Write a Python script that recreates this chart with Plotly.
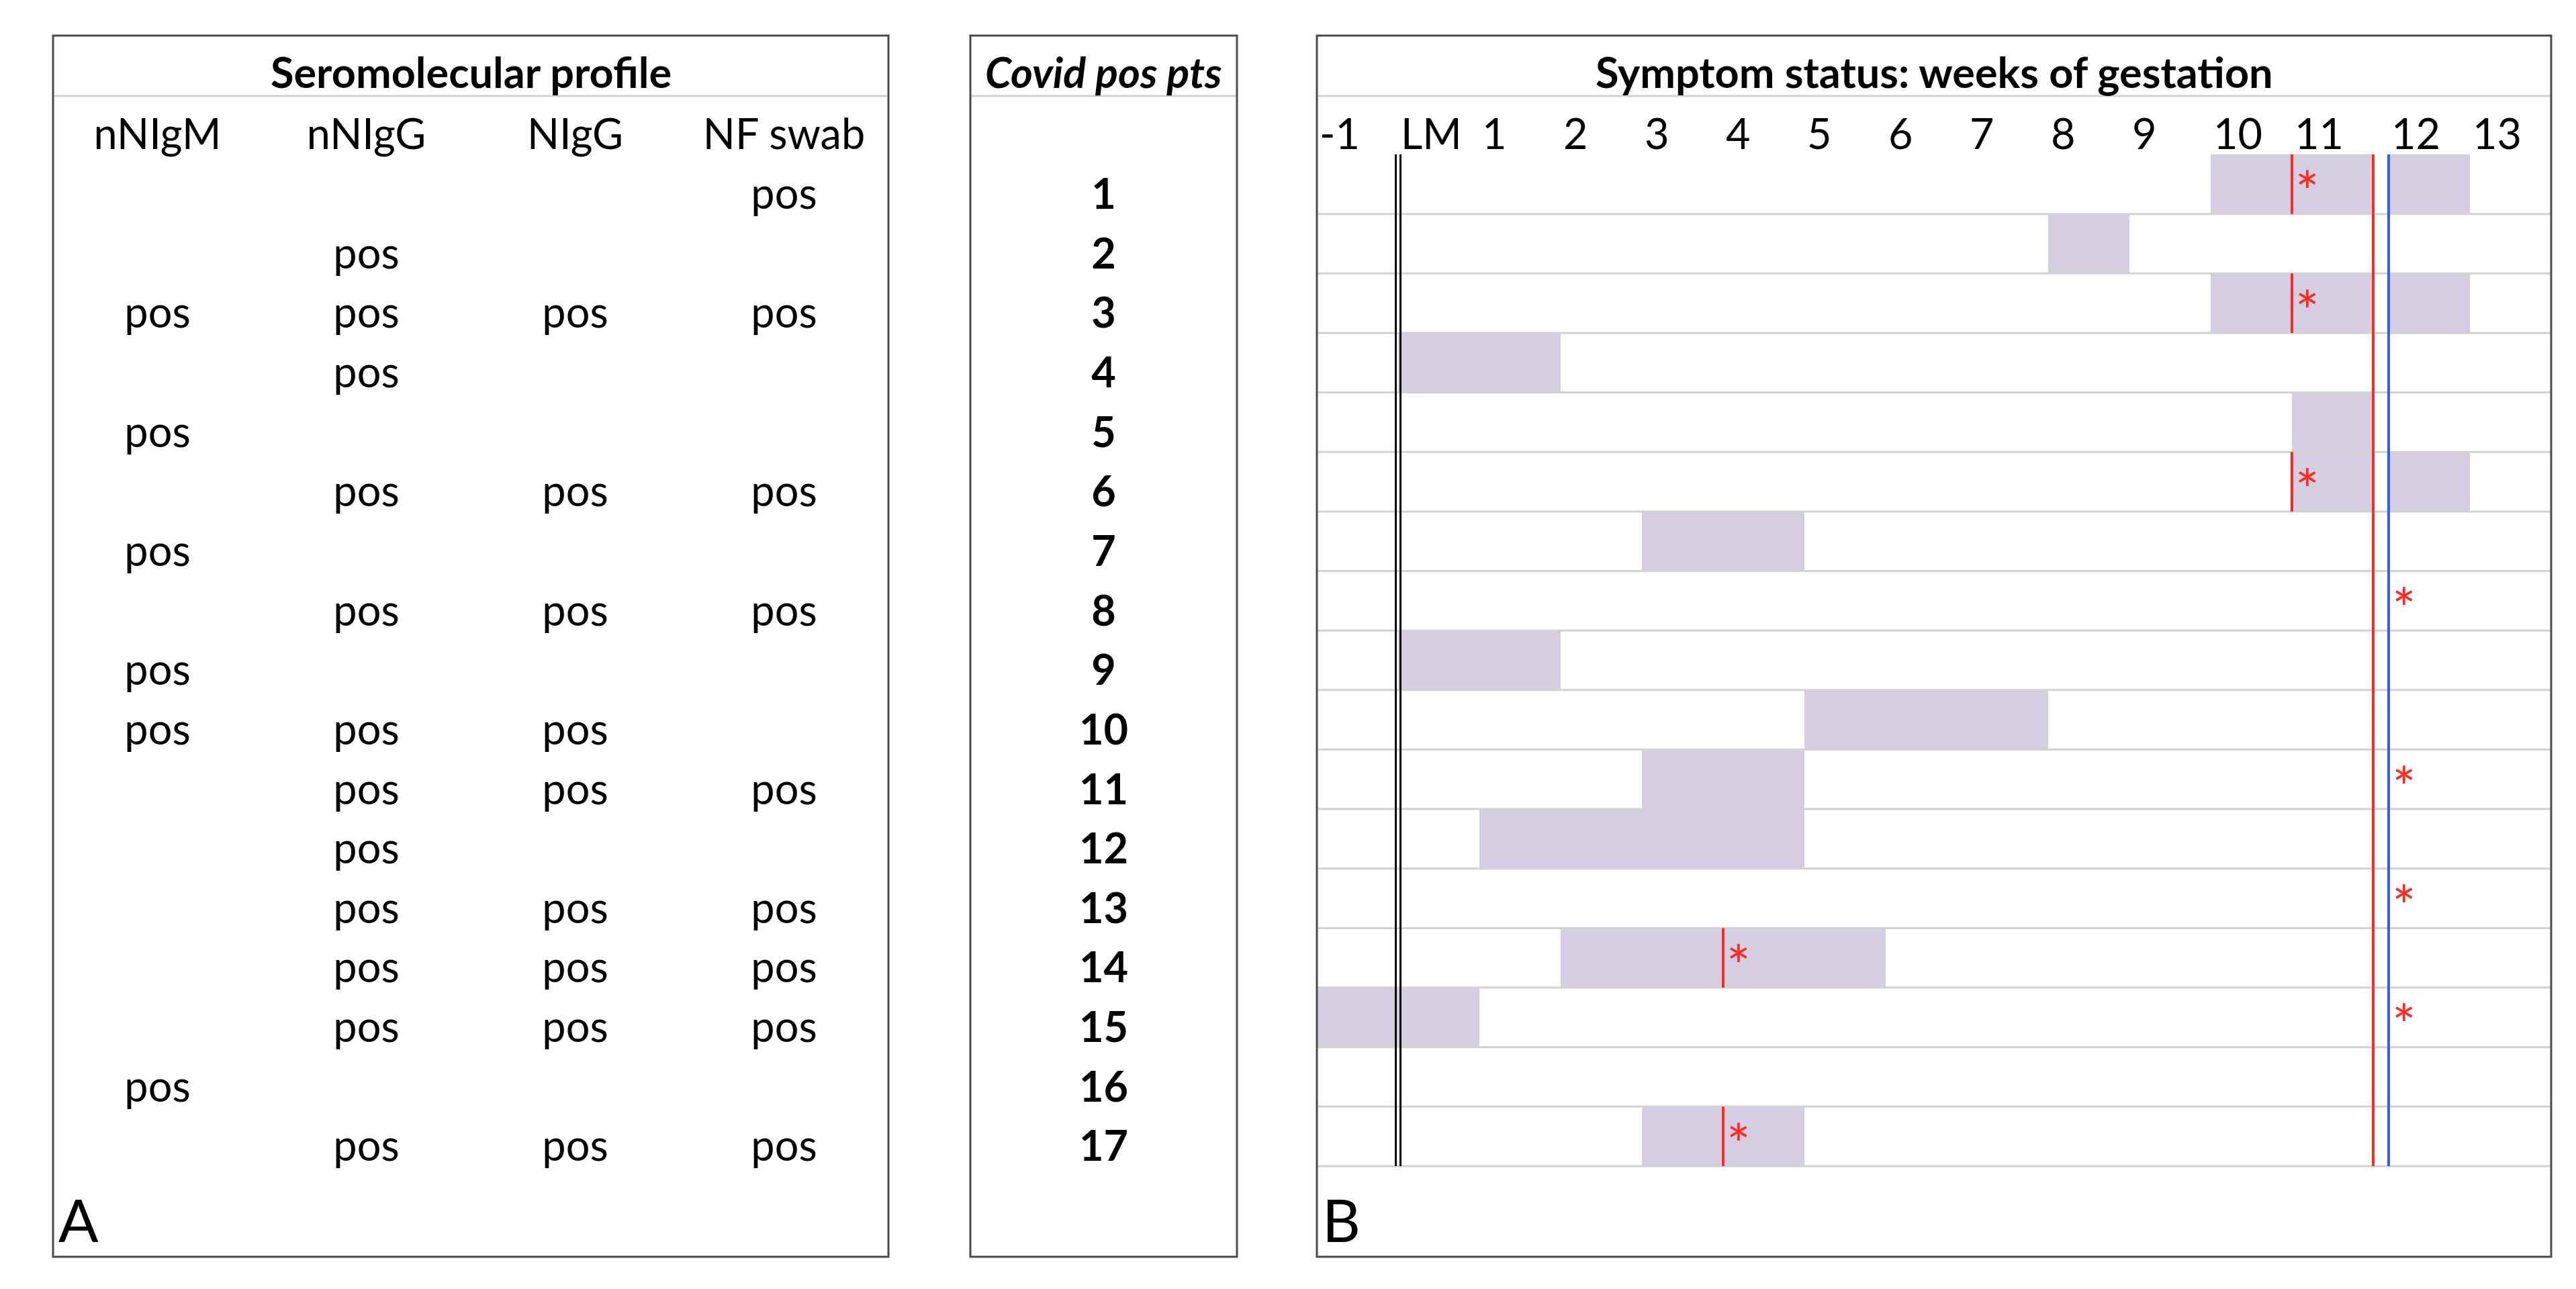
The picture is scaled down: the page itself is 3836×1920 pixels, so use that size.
import plotly.graph_objects as go

# ---------------- data ----------------
patients = list(range(1, 18))
sero_columns = ["nNIgM", "nNIgG", "NIgG", "NF swab"]
nNIgM   = [0, 0, 1, 0, 1, 0, 1, 0, 1, 1, 0, 0, 0, 0, 0, 1, 0]
nNIgG   = [0, 1, 1, 1, 0, 1, 0, 1, 0, 1, 1, 1, 1, 1, 1, 0, 1]
NIgG    = [0, 0, 1, 0, 0, 1, 0, 1, 0, 1, 1, 0, 1, 1, 1, 0, 1]
NF_swab = [1, 0, 1, 0, 0, 1, 0, 1, 0, 0, 1, 0, 1, 1, 1, 0, 1]

week_ticks  = [-1, 0, 1, 2, 3, 4, 5, 6, 7, 8, 9, 10, 11, 12, 13]
week_labels = ["-1", "LM", "1", "2", "3", "4", "5", "6", "7", "8", "9", "10", "11", "12", "13"]

symptom_start  = [10, 8, 10, 0, 11, 11, 3, None, 0, 5, 3, 1, None, 2, -1, None, 3]
symptom_end    = [13, 9, 13, 2, 12, 13, 5, None, 2, 8, 5, 5, None, 6, 1, None, 5]
diagnosis_week = [11, None, 11, None, None, 11, None, 12, None, None, 12, None, 12, 4, 12, None, 4]
first_trimester_end = 12   # red line (end of week 11)
screening_week = 12        # blue line (start of week-12 column)

# ---------------- layout constants (pixels) ----------------
W, H = 3836, 1920
PANEL_TOP, PANEL_BOTTOM, HEADER_SEP = 53, 1872, 143
A_L, A_R = 79, 1323
C_L, C_R = 1445, 1842
B_L, B_R = 1961, 3799
ROW_TOP, ROW_BOTTOM = 230, 1737
CELL_PX = (B_R - B_L) / 15.19
GAP = 23 / CELL_PX
X_MAX = 14 + GAP

FONT = "Lato, 'Open Sans', sans-serif"
FS = 63
FS_AST = 84
FS_PANEL = 88
BAR_COL = "#D5CDE1"
SEP_COL = "#D2D2D2"
BORDER_COL = "#4A4A4A"
RED = "#FF2A1F"
BLUE = "#2F5FFF"

n = len(patients)
pitch = (ROW_BOTTOM - ROW_TOP) / n
y_top = 0.5 - ROW_TOP / pitch
y_bot = n + 0.5 + (H - ROW_BOTTOM) / pitch
TXT_DY = 21 / pitch
AST_DY = 21 / pitch
AST_DX = 5 / CELL_PX
LABEL_PAD = 4 / CELL_PX
LM_OFF = 3.5 / CELL_PX


def pos(w, as_end=False):
    if w > screening_week or (w == screening_week and not as_end):
        return w + GAP
    return w


fig = go.Figure()

# ---------- Panel A: seromolecular profile ----------
px_, py_ = [], []
for j, col in enumerate([nNIgM, nNIgG, NIgG, NF_swab]):
    for p, v in zip(patients, col):
        if v:
            px_.append(sero_columns[j])
            py_.append(p + TXT_DY)
fig.add_trace(go.Scatter(x=px_, y=py_, mode="text", text=["pos"] * len(px_),
                         textposition="middle center",
                         textfont=dict(family=FONT, size=FS, color="black"),
                         xaxis="x", yaxis="y", hoverinfo="skip"))
fig.add_trace(go.Scatter(x=sero_columns, y=[TXT_DY] * len(sero_columns), mode="text",
                         text=sero_columns, textposition="middle center",
                         textfont=dict(family=FONT, size=FS, color="black"),
                         xaxis="x", yaxis="y", hoverinfo="skip"))

# ---------- Panel C: patient numbers ----------
fig.add_trace(go.Scatter(x=[0] * n, y=[p + TXT_DY for p in patients], mode="text",
                         text=[str(p) for p in patients], textposition="middle center",
                         textfont=dict(family=FONT, size=FS, color="black", weight="bold"),
                         xaxis="x2", yaxis="y2", hoverinfo="skip"))

# ---------- Panel B: symptom timeline ----------
bar_y, bar_base, bar_len = [], [], []
for p, s, e in zip(patients, symptom_start, symptom_end):
    if s is None:
        continue
    segs = [(s, e)]
    if s < screening_week < e:
        segs = [(s, screening_week), (screening_week, e)]
    for a, b in segs:
        l, r = pos(a), pos(b, as_end=True)
        bar_y.append(p)
        bar_base.append(l)
        bar_len.append(r - l)
fig.add_trace(go.Bar(y=bar_y, x=bar_len, base=bar_base, orientation="h", width=1.0,
                     marker=dict(color=BAR_COL, line=dict(width=0)),
                     xaxis="x3", yaxis="y3", hoverinfo="skip"))

# row separators
sx, sy = [], []
for p in patients:
    sx += [-1, X_MAX, None]
    sy += [p + 0.5, p + 0.5, None]
fig.add_trace(go.Scatter(x=sx, y=sy, mode="lines", line=dict(color=SEP_COL, width=3),
                         xaxis="x3", yaxis="y3", hoverinfo="skip"))

# LM double line
for off in (-LM_OFF, LM_OFF):
    fig.add_trace(go.Scatter(x=[pos(0) + off] * 2, y=[0.5, n + 0.5], mode="lines",
                             line=dict(color="black", width=3),
                             xaxis="x3", yaxis="y3", hoverinfo="skip"))

# first trimester (red) and screening (blue) lines
fig.add_trace(go.Scatter(x=[pos(first_trimester_end, as_end=True)] * 2, y=[0.5, n + 0.5],
                         mode="lines", line=dict(color=RED, width=4),
                         xaxis="x3", yaxis="y3", hoverinfo="skip"))
fig.add_trace(go.Scatter(x=[pos(screening_week)] * 2, y=[0.5, n + 0.5],
                         mode="lines", line=dict(color=BLUE, width=4),
                         xaxis="x3", yaxis="y3", hoverinfo="skip"))

# diagnosis markers
dx, dy, ax_, ay_ = [], [], [], []
for p, d in zip(patients, diagnosis_week):
    if d is None:
        continue
    if d < screening_week:
        dx += [pos(d), pos(d), None]
        dy += [p - 0.5, p + 0.5, None]
    ax_.append(pos(d) + AST_DX)
    ay_.append(p + AST_DY)
fig.add_trace(go.Scatter(x=dx, y=dy, mode="lines", line=dict(color=RED, width=4),
                         xaxis="x3", yaxis="y3", hoverinfo="skip"))
fig.add_trace(go.Scatter(x=ax_, y=ay_, mode="text", text=["*"] * len(ax_),
                         textposition="middle right",
                         textfont=dict(family=FONT, size=FS_AST, color=RED),
                         xaxis="x3", yaxis="y3", hoverinfo="skip"))

# week labels
fig.add_trace(go.Scatter(x=[pos(w) + LABEL_PAD for w in week_ticks], y=[TXT_DY] * len(week_ticks),
                         mode="text", text=week_labels, textposition="middle right",
                         textfont=dict(family=FONT, size=FS, color="black"),
                         xaxis="x3", yaxis="y3", hoverinfo="skip"))

# ---------- axes ----------
fig.update_layout(
    width=W, height=H, margin=dict(l=0, r=0, t=0, b=0), autosize=False,
    paper_bgcolor="white", plot_bgcolor="white", showlegend=False,
    xaxis=dict(domain=[A_L / W, A_R / W], type="category", categoryarray=sero_columns,
               range=[-0.5, len(sero_columns) - 0.5], visible=False),
    xaxis2=dict(domain=[C_L / W, C_R / W], range=[-0.5, 0.5], visible=False, anchor="y2"),
    xaxis3=dict(domain=[B_L / W, B_R / W], range=[-1, X_MAX], visible=False, anchor="y3"),
    yaxis=dict(domain=[0, 1], range=[y_bot, y_top], visible=False),
    yaxis2=dict(domain=[0, 1], range=[y_bot, y_top], visible=False, anchor="x2"),
    yaxis3=dict(domain=[0, 1], range=[y_bot, y_top], visible=False, anchor="x3"),
)

# ---------- panel frames, headers ----------
shapes = []
for ref in ("x domain", "x2 domain", "x3 domain"):
    shapes.append(dict(type="line", xref=ref, yref="paper", x0=0, x1=1,
                       y0=1 - HEADER_SEP / H, y1=1 - HEADER_SEP / H,
                       line=dict(color=SEP_COL, width=3), layer="above"))
    shapes.append(dict(type="rect", xref=ref, yref="paper", x0=0, x1=1,
                       y0=1 - PANEL_BOTTOM / H, y1=1 - PANEL_TOP / H,
                       line=dict(color=BORDER_COL, width=3), layer="above"))
fig.update_layout(shapes=shapes)

title_y = 1 - (128 - 0.387 * FS + 3) / H
ann = [
    dict(text="Seromolecular profile", xref="x domain", x=0.5, yref="paper", y=title_y,
         xanchor="center", yanchor="middle", showarrow=False,
         font=dict(family=FONT, size=FS, color="black", weight="bold")),
    dict(text="Covid pos pts", xref="x2 domain", x=0.5, yref="paper", y=title_y,
         xanchor="center", yanchor="middle", showarrow=False,
         font=dict(family=FONT, size=FS, color="black", weight="bold", style="italic")),
    dict(text="Symptom status: weeks of gestation", xref="x3 domain", x=0.5, yref="paper", y=title_y,
         xanchor="center", yanchor="middle", showarrow=False,
         font=dict(family=FONT, size=FS, color="black", weight="bold")),
]
lab_y = 1 - (1850 - 0.387 * FS_PANEL) / H
for ref, t in (("x domain", "A"), ("x3 domain", "B")):
    ann.append(dict(text=t, xref=ref, x=0, xshift=6, yref="paper", y=lab_y,
                    xanchor="left", yanchor="middle", showarrow=False,
                    font=dict(family=FONT, size=FS_PANEL, color="black")))
fig.update_layout(annotations=ann)

fig.write_html("out.html", config={"displayModeBar": False},
               post_script="document.body.style.margin='0';document.body.style.overflow='hidden';")
